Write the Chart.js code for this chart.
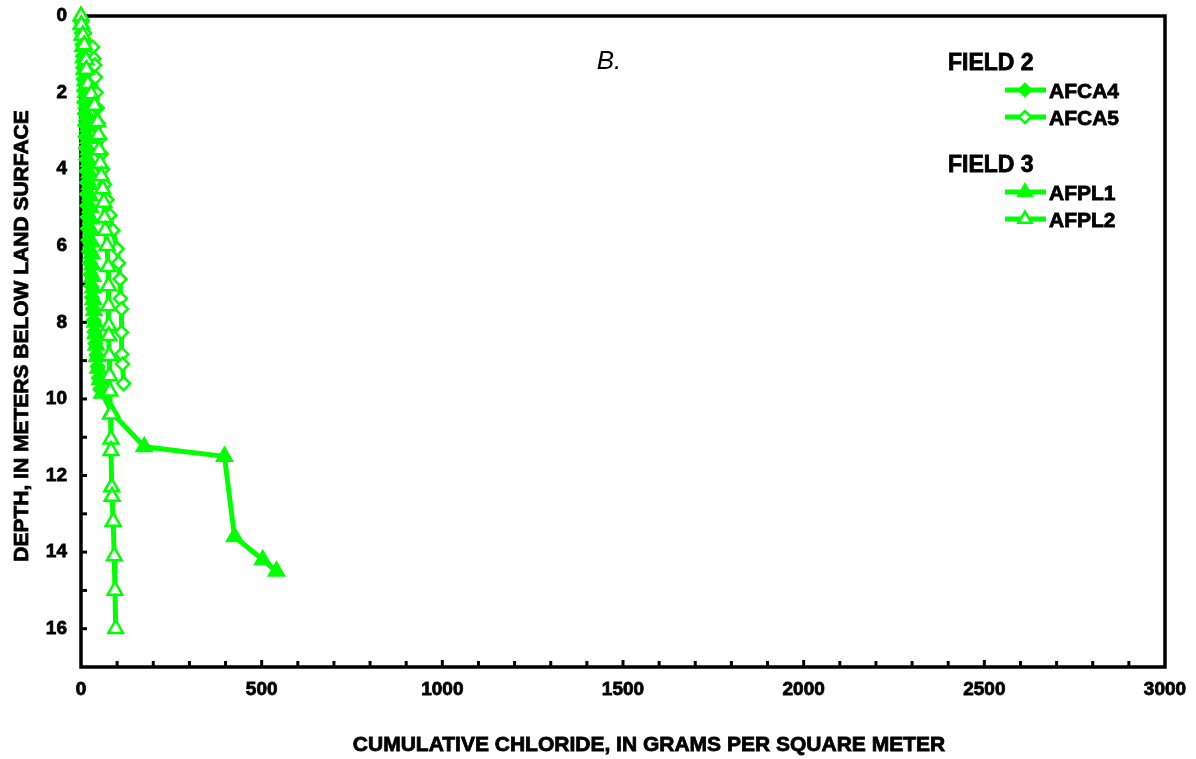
<!DOCTYPE html>
<html>
<head>
<meta charset="utf-8">
<script src="https://cdn.jsdelivr.net/npm/chart.js@4.4.1/dist/chart.umd.min.js"></script>
<style>
  html, body { margin: 0; padding: 0; background: #fff; }
  #wrap { width: 1196px; height: 759px; }
</style>
</head>
<body>
<div id="wrap"><canvas id="chloride" width="1196" height="759"></canvas></div>
<script>
// depth in metres, cumulative chloride in g/m2
const afca4Depth    = [0.15, 0.45, 0.75, 1.05, 1.35, 1.65, 1.95, 2.25, 2.55, 2.85, 3.15, 3.45, 3.75, 4.05, 4.35, 4.65, 4.95, 5.25, 5.55, 5.85, 6.15, 6.45, 6.75, 7.05, 7.35, 7.65, 7.95, 8.25, 8.55, 8.85, 9.15, 9.45, 9.75];
const afca4Chloride = [0, 2, 4, 5, 6, 7, 8, 9, 10, 11, 12, 13, 14, 15, 16, 16, 17, 18, 19, 20, 22, 24, 26, 28, 30, 33, 35, 37, 40, 43, 46, 49, 53];

const afca5Depth    = [0.15, 0.45, 0.81, 1.11, 1.28, 1.6, 2.0, 2.4, 2.8, 3.2, 3.6, 4.0, 4.4, 4.8, 5.2, 5.6, 6.08, 6.45, 6.87, 7.38, 7.65, 8.26, 8.83, 9.09, 9.6];
const afca5Chloride = [2, 10, 32, 36, 38, 40, 42, 45, 48, 52, 56, 60, 65, 72, 80, 88, 100, 104, 108, 109, 112, 112, 113, 115, 118];

const afpl1Depth    = [0.2, 0.5, 0.8, 1.1, 1.4, 1.7, 2.0, 2.3, 2.6, 2.9, 3.2, 3.5, 3.8, 4.1, 4.4, 4.7, 5.0, 5.3, 5.6, 5.9, 6.2, 6.5, 6.8, 7.1, 7.4, 7.7, 8.0, 8.3, 8.6, 8.9, 9.2, 9.5, 9.85, 10.35, 11.25, 11.5, 13.6, 14.2, 14.5];
const afpl1Chloride = [1, 3, 5, 7, 9, 11, 13, 15, 17, 19, 20, 21, 22, 23, 24, 25, 26, 27, 28, 29, 30, 31, 32, 33, 34, 36, 38, 40, 42, 44, 47, 52, 58, 85, 175, 397, 425, 503, 541];

const afpl2Depth    = [0, 0.23, 0.5, 0.76, 1.15, 1.4, 1.77, 2.04, 2.34, 2.77, 3.1, 3.5, 3.85, 4.18, 4.52, 4.87, 5.27, 5.6, 6.0, 6.55, 7.05, 7.57, 8.09, 8.35, 8.87, 9.4, 9.8, 10.4, 11.05, 11.35, 12.3, 12.55, 13.2, 14.1, 15.0, 16.0];
const afpl2Chloride = [0, 1, 5, 9, 14, 15, 19, 28, 37, 46, 48, 50, 53, 56, 60, 63, 65, 67, 72, 75, 76, 76, 77, 77, 78, 79, 80, 82, 83, 83, 85, 86, 89, 92, 94, 96];

const xTickLabels = [0, 500, 1000, 1500, 2000, 2500, 3000];
const yTickLabels = [0, 2, 4, 6, 8, 10, 12, 14, 16];

const GREEN = '#00ff00';
const FONT = "'Liberation Sans', Arial, sans-serif";

function pts(depth, val){
  return depth.map((d, i) => ({ x: val[i], y: d }));
}

function series(label, depth, val, style, filled, order){
  return {
    label,
    data: pts(depth, val),
    showLine: true,
    borderColor: GREEN,
    borderWidth: 5,
    pointStyle: style,
    pointRadius: style === 'triangle' ? 8.5 : 6.5,
    pointBorderColor: GREEN,
    pointBackgroundColor: filled ? GREEN : '#ffffff',
    pointBorderWidth: 2.5,
    clip: false,
    order
  };
}

// heavier bold, the original lettering is thick
function boldText(ctx, txt, x, y){
  ctx.strokeStyle = '#000';
  ctx.lineWidth = 0.8;
  ctx.strokeText(txt, x, y);
  ctx.fillText(txt, x, y);
}

// frame + small inside ticks, drawn under the data
const framePlugin = {
  id: 'frame',
  beforeDatasetsDraw(chart){
    const { ctx, chartArea: a, scales } = chart;
    ctx.save();
    ctx.strokeStyle = '#000';
    ctx.lineWidth = 3.5;
    ctx.strokeRect(a.left, a.top, a.right - a.left, a.bottom - a.top);
    ctx.lineWidth = 3;
    for (let v = 100; v < 3000; v += 100){
      const px = scales.x.getPixelForValue(v);
      const len = v % 500 === 0 ? 7 : 6;
      ctx.beginPath();
      ctx.moveTo(px, a.bottom);
      ctx.lineTo(px, a.bottom - len);
      ctx.stroke();
    }
    for (let d = 1; d <= 16; d++){
      const py = scales.y.getPixelForValue(d);
      ctx.beginPath();
      ctx.moveTo(a.left, py);
      ctx.lineTo(a.left + 6, py);
      ctx.stroke();
    }
    ctx.restore();
  }
};

// titles, panel letter and the grouped legend
const textPlugin = {
  id: 'texts',
  afterDraw(chart){
    const { ctx } = chart;
    ctx.save();
    ctx.fillStyle = '#000';
    ctx.textBaseline = 'middle';

    ctx.font = 'bold 21px ' + FONT;
    ctx.textAlign = 'center';
    boldText(ctx, 'CUMULATIVE CHLORIDE, IN GRAMS PER SQUARE METER', 649, 745);

    ctx.save();
    ctx.translate(22, 336);
    ctx.rotate(-Math.PI / 2);
    boldText(ctx, 'DEPTH, IN METERS BELOW LAND SURFACE', 0, 0);
    ctx.restore();

    ctx.font = 'italic 26px ' + FONT;
    ctx.fillText('B.', 609, 62);

    ctx.textAlign = 'left';
    ctx.font = 'bold 23px ' + FONT;
    boldText(ctx, 'FIELD 2', 948, 64);
    boldText(ctx, 'FIELD 3', 948, 166);

    const rows = [
      { ds: 0, y: 90 }, { ds: 1, y: 117 },
      { ds: 2, y: 192 }, { ds: 3, y: 219 }
    ];
    const sets = chart.data.datasets;
    ctx.font = 'bold 21px ' + FONT;
    rows.forEach(r => {
      const d = sets[r.ds];
      ctx.strokeStyle = GREEN;
      ctx.lineWidth = 5;
      ctx.beginPath();
      ctx.moveTo(1005, r.y);
      ctx.lineTo(1046, r.y);
      ctx.stroke();
      ctx.fillStyle = d.pointBackgroundColor;
      ctx.strokeStyle = GREEN;
      ctx.lineWidth = d.pointBorderWidth;
      Chart.helpers.drawPoint(ctx, {
        pointStyle: d.pointStyle,
        radius: d.pointStyle === 'triangle' ? 7.5 : 6,
        rotation: 0,
        borderWidth: d.pointBorderWidth
      }, 1025, r.y);
      ctx.fillStyle = '#000';
      boldText(ctx, d.label, 1049, r.y + 2);
    });
    ctx.restore();
  }
};

new Chart(document.getElementById('chloride'), {
  type: 'scatter',
  data: {
    datasets: [
      series('AFCA4', afca4Depth, afca4Chloride, 'rectRot', true, 3),
      series('AFCA5', afca5Depth, afca5Chloride, 'rectRot', false, 1),
      series('AFPL1', afpl1Depth, afpl1Chloride, 'triangle', true, 2),
      series('AFPL2', afpl2Depth, afpl2Chloride, 'triangle', false, 0)
    ]
  },
  options: {
    responsive: false,
    animation: false,
    devicePixelRatio: 1,
    layout: { padding: { top: 16, right: 31, left: 0, bottom: 0 } },
    plugins: { legend: { display: false }, tooltip: { enabled: false } },
    scales: {
      x: {
        type: 'linear',
        min: 0, max: 3000,
        afterFit(s){ s.height = 92; s.paddingLeft = 0; s.paddingRight = 0; },
        afterBuildTicks(s){ s.ticks = xTickLabels.map(v => ({ value: v })); },
        grid: { display: false, drawTicks: false },
        border: { display: false },
        ticks: {
          color: '#000', padding: 11, maxRotation: 0,
          textStrokeColor: '#000', textStrokeWidth: 0.8,
          callback: v => String(v),
          font: { family: FONT, size: 19, weight: 'bold' }
        }
      },
      y: {
        type: 'linear',
        reverse: true,
        min: 0, max: 17,
        afterFit(s){ s.width = 81; s.paddingTop = 0; s.paddingBottom = 0; },
        afterBuildTicks(s){ s.ticks = yTickLabels.map(v => ({ value: v })); },
        grid: { display: false, drawTicks: false },
        border: { display: false },
        ticks: {
          color: '#000', padding: 14,
          textStrokeColor: '#000', textStrokeWidth: 0.8,
          callback: v => String(v),
          font: { family: FONT, size: 19, weight: 'bold' }
        }
      }
    }
  },
  plugins: [framePlugin, textPlugin]
});
</script>
</body>
</html>
